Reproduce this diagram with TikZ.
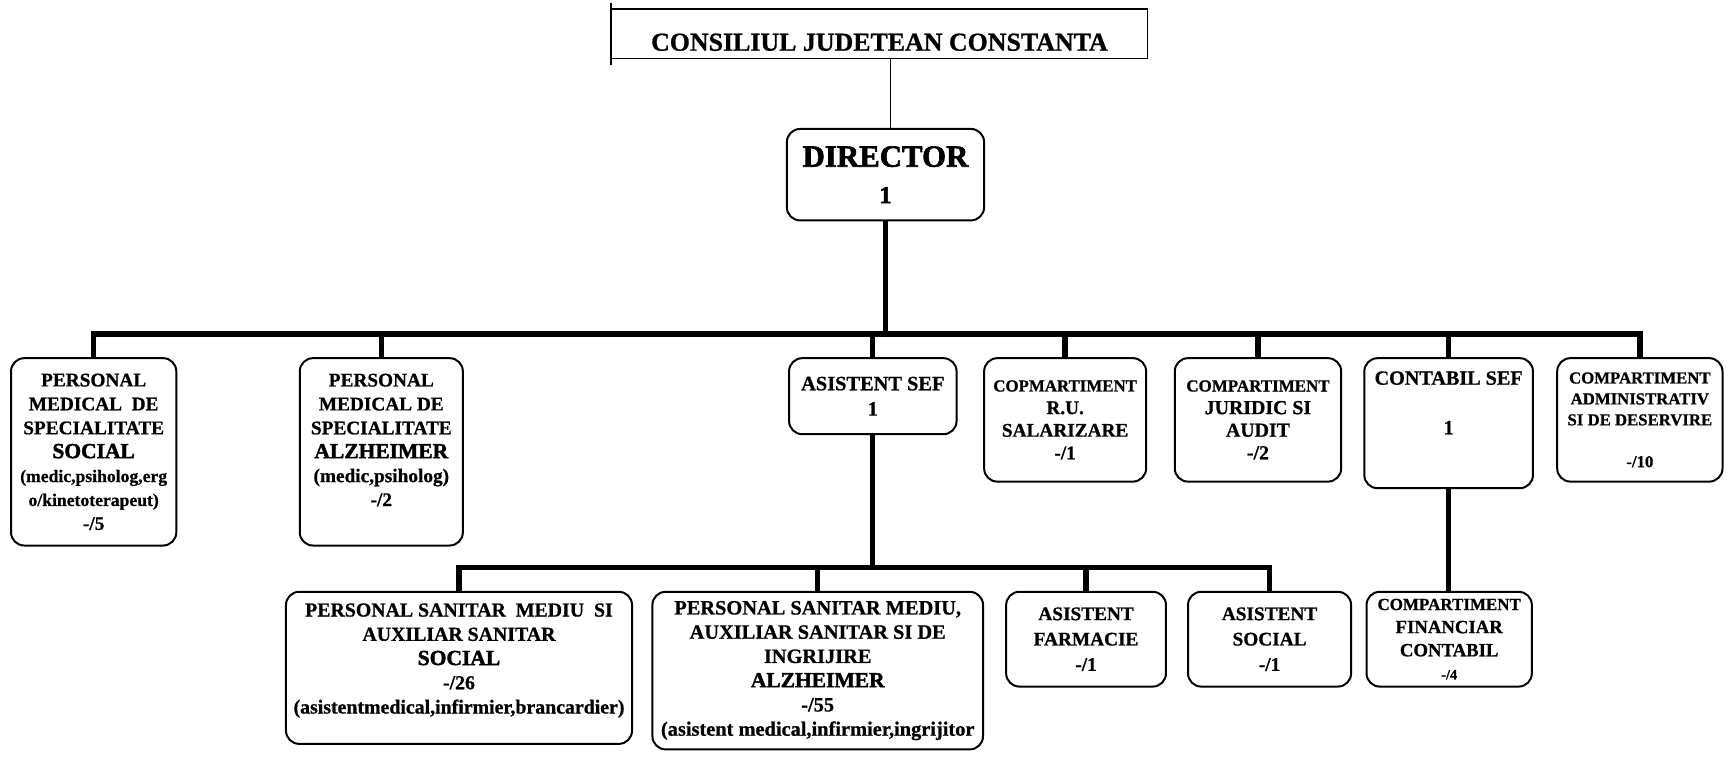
\documentclass[tikz,border=0pt]{standalone}
\usepackage{fontspec}
\setmainfont{Liberation Serif}[BoldFeatures={FakeBold=0.8}]
\newfontfamily\heavyfont{Liberation Serif}[BoldFeatures={FakeBold=2}]
\newcommand{\fsz}[2]{\fontsize{#1}{#2}\selectfont}
\newcommand{\hvy}[1]{{\heavyfont\bfseries\fsz{19.5}{21.7}#1}}
\tikzset{
  unit/.style={draw, line width=1.8pt, rounded corners=12pt, align=center, inner sep=1pt},
  conn/.style={line width=4.8pt},
}
\begin{document}
\begin{tikzpicture}[x=1pt,y=-1pt]
\useasboundingbox (0,0) rectangle (1568,686);

\node[draw, line width=1.3pt, minimum width=486pt, minimum height=45pt, text height=31pt, text depth=0pt, font=\bfseries\fsz{23.5}{28}] (cjc) at (798,30.5) {CONSILIUL JUDETEAN CONSTANTA};
\draw[line width=1.3pt] ([yshift=5pt]cjc.north west) -- ([yshift=-5pt]cjc.south west);

\node[unit, minimum width=179pt, minimum height=83pt, font=\heavyfont\bfseries\fsz{28}{33}] (dir) at (803.5,158.5) {DIRECTOR\\{\bfseries\fsz{22}{26}1}};

\node[unit, minimum width=150pt, minimum height=170pt, font=\bfseries\fsz{17.5}{21.7}] (ps1) at (85,410) {PERSONAL\\ MEDICAL\ \ DE\\ SPECIALITATE\\ \hvy{SOCIAL}\\ {\bfseries\fsz{16}{21.7}(medic,psiholog,erg}\\ {\bfseries\fsz{16}{21.7}o/kinetoterapeut)}\\ -/5};
\node[unit, minimum width=148pt, minimum height=170pt, font=\bfseries\fsz{17.5}{21.7}] (ps2) at (346,410) {PERSONAL\\ MEDICAL DE\\ SPECIALITATE\\ \hvy{ALZHEIMER}\\ (medic,psiholog)\\ -/2\\ \mbox{}};
\node[unit, minimum width=152pt, minimum height=69pt, font=\bfseries\fsz{18.5}{23}] (as) at (792,359.5) {ASISTENT SEF\\ 1};
\node[unit, minimum width=147pt, minimum height=112pt, font=\bfseries\fsz{17.5}{20.5}] (ru) at (966.5,381) {{\bfseries\fsz{15.3}{20.5}COPMARTIMENT}\\ R.U.\\ SALARIZARE\\ -/1};
\node[unit, minimum width=151pt, minimum height=112pt, font=\bfseries\fsz{18}{20.5}] (ja) at (1141.5,381) {{\bfseries\fsz{15.4}{20.5}COMPARTIMENT}\\ JURIDIC SI\\ AUDIT\\ -/2};
\node[unit, minimum width=153pt, minimum height=118pt, font=\bfseries\fsz{18.3}{22}] (cs) at (1314.5,384) {CONTABIL SEF\\[23pt] 1\\[15pt] \mbox{}};
\node[unit, minimum width=150pt, minimum height=112pt, font=\bfseries\fsz{15.2}{19}] (adm) at (1488,381) {COMPARTIMENT\\ ADMINISTRATIV\\ SI DE DESERVIRE\\[19pt] -/10};

\node[unit, minimum width=314pt, minimum height=138pt, font=\bfseries\fsz{18}{22}] (soc) at (416.5,606) {PERSONAL SANITAR\ \ MEDIU\ \ SI\\ AUXILIAR SANITAR\\ \hvy{SOCIAL}\\ -/26\\ (asistentmedical,infirmier,brancardier)\\[-5pt] \mbox{}};
\node[unit, minimum width=300pt, minimum height=143pt, font=\bfseries\fsz{18.5}{22}] (alz) at (742,608.5) {PERSONAL SANITAR MEDIU,\\ AUXILIAR SANITAR SI DE\\ INGRIJIRE\\ \hvy{ALZHEIMER}\\ -/55\\ (asistent medical,infirmier,ingrijitor};
\node[unit, minimum width=145pt, minimum height=86pt, font=\bfseries\fsz{17.5}{23}] (farm) at (985.5,580) {ASISTENT\\ FARMACIE\\ -/1};
\node[unit, minimum width=148pt, minimum height=86pt, font=\bfseries\fsz{17.5}{23}] (asoc) at (1152,580) {ASISTENT\\ SOCIAL\\ -/1};
\node[unit, minimum width=150pt, minimum height=86pt, font=\bfseries\fsz{17}{21}] (fin) at (1315,580) {{\bfseries\fsz{15.4}{21}COMPARTIMENT}\\ FINANCIAR\\ CONTABIL\\ {\bfseries\fsz{13}{18}-/4}};

\draw[line width=1.3pt] ([xshift=10pt]cjc.south) -- ([xshift=10pt]cjc.south |- dir.north);
\coordinate (bus) at (800,303);
\foreach \n in {ps1,ps2,as,ru,ja,cs,adm}
  \draw[conn] (dir.south) |- (bus) -| (\n.north);
\coordinate (bus2) at (793,515);
\foreach \n in {soc,alz,farm,asoc}
  \draw[conn] (as.south) |- (bus2) -| (\n.north);
\draw[conn] (cs.south) -- (cs.south |- fin.north);
\end{tikzpicture}
\end{document}
